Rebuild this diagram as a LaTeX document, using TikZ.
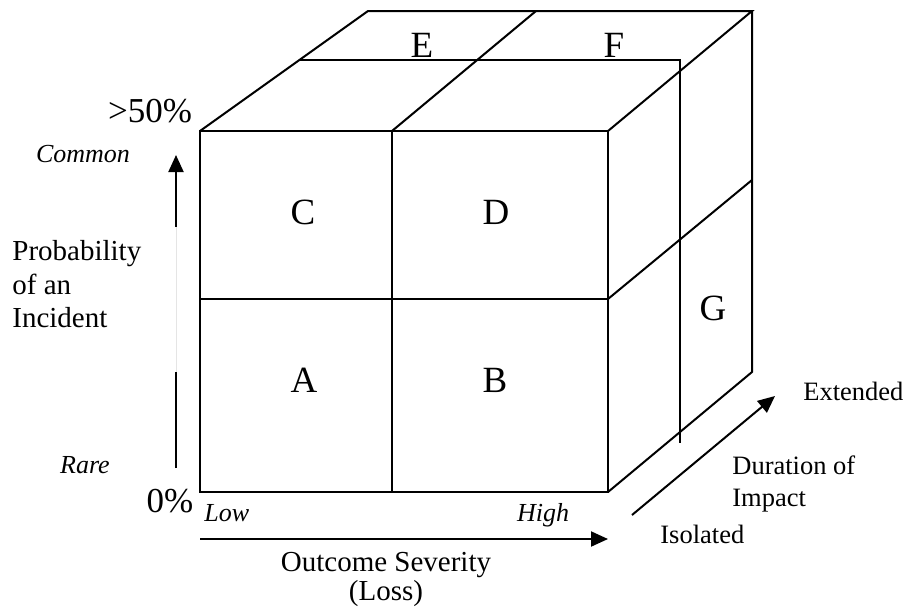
\documentclass[tikz,border=0pt]{standalone}
\usepackage{fontspec}
\setmainfont{Liberation Serif}
\usetikzlibrary{arrows.meta}

\begin{document}
\begin{tikzpicture}[x=0.5pt, y=-0.5pt,
    edge/.style={line width=1pt},
    arr/.style={-{Triangle[length=8.5pt, width=7.5pt]}, line width=1pt},
    cell/.style={font=\fontsize{18.5}{20}\selectfont, inner sep=0pt},
    pct/.style={font=\fontsize{17.5}{20}\selectfont, inner sep=0pt},
    lbl/.style={font=\fontsize{14.5}{16.75}\selectfont, inner sep=0pt},
    side/.style={font=\fontsize{13.25}{16}\selectfont, inner sep=0pt},
    tag/.style={font=\fontsize{13}{14}\selectfont\itshape, inner sep=0pt}
  ]
  \useasboundingbox (0,0) rectangle (907,607);
  % cube corners
  \coordinate (f1) at (200,131);
  \coordinate (f2) at (608,131);
  \coordinate (f3) at (608,492);
  \coordinate (f4) at (200,492);
  \coordinate (fm1) at (392,131);
  \coordinate (fm2) at (392,492);
  \coordinate (fm3) at (200,299);
  \coordinate (fm4) at (608,299);
  \coordinate (b1) at (368,11);
  \coordinate (bm) at (536,11);
  \coordinate (b2) at (752,11);
  \coordinate (b3) at (752,372);
  \coordinate (bm4) at (752,180);
  \coordinate (h1) at (299,60);
  \coordinate (h2) at (680,60);
  \coordinate (h3) at (680,443);

  \draw[edge] (f1) rectangle (f3);
  \draw[edge] (fm1) -- (fm2) (fm3) -- (fm4);
  \draw[edge] (f1) -- (b1) -- (b2) -- (f2);
  \draw[edge] (fm1) -- (bm);
  \draw[edge] (b2) -- (b3) -- (f3);
  \draw[edge] (fm4) -- (bm4);
  \draw[edge] (h1) -- (h2) -- (h3);

  % cell letters
  \node[cell] (c) at (303,212) {C};
  \node[cell] (d) at (496,212) {D};
  \node[cell] (a) at (304,380) {A};
  \node[cell] (b) at (495,380) {B};
  \node[cell] (e) at (422,45) {E};
  \node[cell] (f) at (614,45) {F};
  \node[cell] (g) at (713,308) {G};

  % probability axis
  \node[pct, anchor=base] (top) at (150,122) {>50\%};
  \node[pct, anchor=base] (zero) at (170,512) {0\%};
  \node[tag, anchor=base] (common) at (83,162) {Common};
  \node[tag, anchor=base] (rare) at (85,473) {Rare};
  \node[lbl, align=left, anchor=north west] (prob) at (12,240) {Probability\\of an\\Incident};
  \coordinate (pa) at (176,468);
  \coordinate (pb) at (176,372);
  \coordinate (pc) at (176,227);
  \coordinate (pd) at (176,155);
  \draw[edge] (pa) -- (pb);
  \draw[black!10, line width=0.5pt] (pb) -- (pc);
  \draw[arr] (pc) -- (pd);

  % severity axis
  \node[tag, anchor=base west] (low) at (204,521) {Low};
  \node[tag, anchor=base] (high) at (543,521) {High};
  \node[lbl, font=\fontsize{14.5}{14.5}\selectfont, align=center, anchor=north] (sev) at (386,552) {Outcome Severity\\(Loss)};
  \coordinate (sa) at (200,539);
  \coordinate (sb) at (608,539);
  \draw[arr] (sa) -- (sb);

  % duration axis
  \node[side, anchor=base west] (ext) at (803,400) {Extended};
  \node[side, align=left, anchor=north west] (dur) at (732,455) {Duration of\\Impact};
  \node[side, anchor=base west] (iso) at (660,543) {Isolated};
  \coordinate (da) at (632,515);
  \coordinate (db) at (775,396);
  \draw[arr] (da) -- (db);
\end{tikzpicture}
\end{document}
